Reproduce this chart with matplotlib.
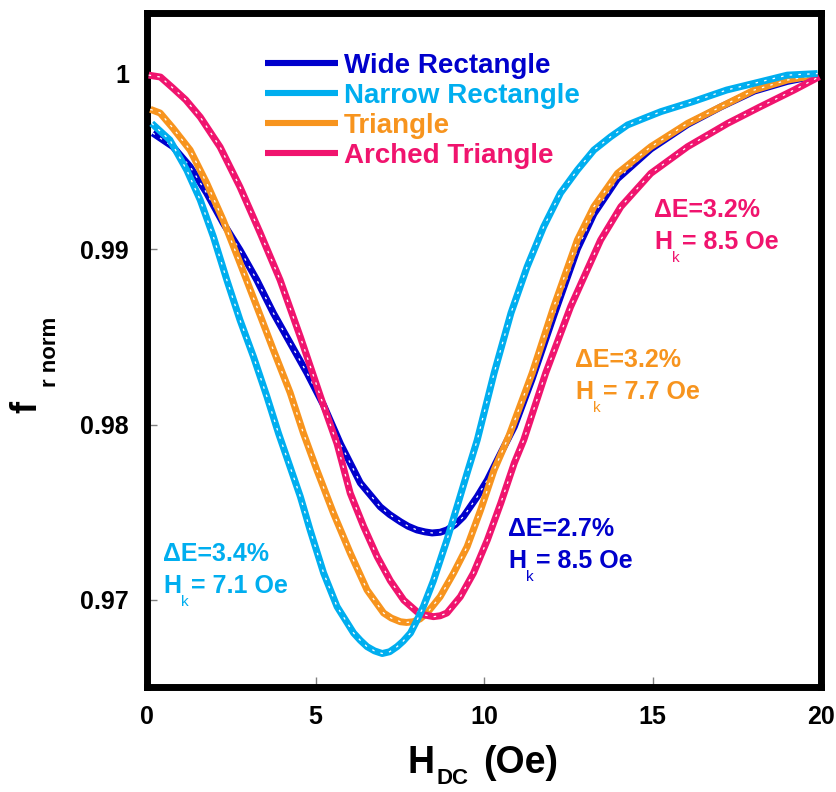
import matplotlib
matplotlib.use("Agg")
import matplotlib.pyplot as plt
from matplotlib.lines import Line2D

# ---------------- data ----------------
series_names = ["Wide Rectangle", "Narrow Rectangle", "Triangle", "Arched Triangle"]
series_colors = ["#0000CC", "#00AEEF", "#F7941E", "#F0146E"]

wide_x = [0.17, 0.77, 1.28, 1.77, 2.26, 2.76, 3.26, 3.75, 4.25, 4.75, 5.24, 5.74, 6.33, 6.92,
          7.2, 7.52, 7.75, 8.01, 8.25, 8.46, 8.7, 8.9, 9.15, 9.39, 9.8, 10.1, 10.5, 10.9,
          11.43, 12.07, 12.77, 13.26, 13.96, 14.95, 16.04, 17.03, 18.02, 19.0, 19.9]
wide_y = [0.99661, 0.99583, 0.99469, 0.99319, 0.99148, 0.98994, 0.98823, 0.98635, 0.98464,
          0.98293, 0.98110, 0.97890, 0.97667, 0.97531, 0.97487, 0.97446, 0.97420, 0.97399,
          0.97388, 0.97382, 0.97386, 0.97399, 0.97430, 0.97475, 0.97589, 0.97684, 0.97838,
          0.97988, 0.98260, 0.98620, 0.99000, 0.99200, 0.99400, 0.99570, 0.99710, 0.99810,
          0.99900, 0.99955, 0.99990]

narrow_x = [0.14, 0.68, 1.18, 1.58, 1.97, 2.37, 2.76, 3.16, 3.56, 3.9, 4.55, 4.84, 5.24, 5.64,
            6.13, 6.33, 6.53, 6.75, 6.98, 7.2, 7.42, 7.6, 7.82, 8.0, 8.2, 8.5, 8.9, 9.2, 9.5,
            9.8, 10.3, 10.8, 11.28, 11.77, 12.27, 12.77, 13.26, 13.76, 14.26, 14.75, 15.25,
            16.2, 17.2, 18.2, 19.0, 19.9]
narrow_y = [0.99716, 0.99621, 0.99450, 0.99279, 0.99070, 0.98823, 0.98595, 0.98386, 0.98158,
            0.97951, 0.97589, 0.97399, 0.97154, 0.96962, 0.96812, 0.96770, 0.96734, 0.96710,
            0.96695, 0.96705, 0.96734, 0.96765, 0.96812, 0.96880, 0.96962, 0.97110, 0.97342,
            0.97532, 0.97724, 0.97912, 0.98293, 0.98635, 0.98899, 0.99127, 0.99319, 0.99450,
            0.99564, 0.99640, 0.99707, 0.99745, 0.99783, 0.99840, 0.99906, 0.99953, 0.99991,
            1.00000]

tri_x = [0.1, 0.39, 0.77, 1.28, 1.77, 2.26, 2.76, 3.26, 3.75, 4.25, 4.64, 5.04, 5.53, 6.03,
         6.53, 7.02, 7.25, 7.52, 7.7, 7.9, 8.1, 8.31, 8.7, 9.1, 9.5, 9.9, 10.3, 10.75, 11.43,
         12.07, 12.77, 13.26, 13.96, 14.95, 16.04, 17.03, 18.02, 19.0, 19.9]
tri_y = [0.99796, 0.99775, 0.99689, 0.99564, 0.99376, 0.99165, 0.98920, 0.98671, 0.98425,
         0.98180, 0.97951, 0.97741, 0.97496, 0.97268, 0.97057, 0.96926, 0.96897, 0.96876,
         0.96872, 0.96876, 0.96892, 0.96926, 0.97019, 0.97154, 0.97304, 0.97513, 0.97741,
         0.97940, 0.98293, 0.98671, 0.99051, 0.99241, 0.99431, 0.99583, 0.99716, 0.99811,
         0.99906, 0.99963, 0.99991]

arch_x = [0.05, 0.4, 0.77, 1.15, 1.58, 2.17, 2.76, 3.36, 3.95, 4.55, 5.2, 5.64, 6.03, 6.43,
          6.83, 7.22, 7.62, 8.01, 8.25, 8.5, 8.7, 8.9, 9.3, 9.69, 10.1, 10.5, 10.9, 11.18,
          11.83, 12.57, 13.46, 14.06, 14.95, 16.04, 17.23, 18.2, 19.2, 19.95]
arch_y = [0.99991, 0.99980, 0.99917, 0.99850, 0.99752, 0.99581, 0.99353, 0.99091, 0.98823,
          0.98499, 0.98130, 0.97890, 0.97609, 0.97418, 0.97247, 0.97110, 0.96999, 0.96933,
          0.96914, 0.96905, 0.96910, 0.96926, 0.97019, 0.97154, 0.97342, 0.97553, 0.97781,
          0.97912, 0.98293, 0.98671, 0.99051, 0.99241, 0.99431, 0.99583, 0.99716, 0.99811,
          0.99906, 0.99982]

x_ticks = [0, 5, 10, 15, 20]
x_tick_labels = ["0", "5", "10", "15", "20"]
y_ticks = [0.97, 0.98, 0.99, 1.0]
y_tick_labels = ["0.97", "0.98", "0.99", "1"]

annot_de = ["\u0394E=2.7%", "\u0394E=3.4%", "\u0394E=3.2%", "\u0394E=3.2%"]
annot_hk = ["= 8.5 Oe", "= 7.1 Oe", "= 7.7 Oe", "= 8.5 Oe"]

# ---------------- figure ----------------
FONT = ["Liberation Sans", "DejaVu Sans"]
plt.rcParams["font.family"] = FONT
W, H = 836, 792
fig = plt.figure(figsize=(W / 100, H / 100), dpi=100)


def fx(px):
    return px / W


def fy(py):
    return 1 - py / H


ax_left, ax_right, ax_top, ax_bot = 147, 821, 13, 686.5
ax = fig.add_axes([fx(ax_left), fy(ax_bot), (ax_right - ax_left) / W, (ax_bot - ax_top) / H])
ax.set_xlim(0, 20)
ax.set_ylim(0.96507, 1.00345)

data = [(wide_x, wide_y), (narrow_x, narrow_y), (tri_x, tri_y), (arch_x, arch_y)]
zorders = [2, 5, 3, 4]
for (xs, ys), c, z in zip(data, series_colors, zorders):
    ax.plot(xs, ys, color=c, lw=5, solid_capstyle="butt", solid_joinstyle="round", zorder=z)
    ax.plot(xs, ys, color="white", lw=0.9, dashes=(2.0, 5), zorder=z + 0.1)

for s in ax.spines.values():
    s.set_linewidth(5)
    s.set_color("black")
ax.set_xticks(x_ticks)
ax.set_xticklabels(x_tick_labels)
ax.set_yticks(y_ticks)
ax.set_yticklabels(y_tick_labels)
ax.tick_params(direction="in", length=7.5, width=1, color="#808080",
               labelsize=18, pad=13, top=False, right=False)
for lab in ax.get_xticklabels() + ax.get_yticklabels():
    lab.set_fontweight("bold")

# ---------------- legend (manual) ----------------
leg_rows = [62.7, 92.7, 123.3, 153.3]
for name, c, py in zip(series_names, series_colors, leg_rows):
    fig.add_artist(Line2D([fx(265), fx(338)], [fy(py), fy(py)], color=c, lw=4.4,
                          solid_capstyle="butt", transform=fig.transFigure))
    fig.text(fx(344), fy(py + 10), name, color=c, fontsize=20, fontweight="bold",
             ha="left", va="baseline")

renderer = fig.canvas.get_renderer()


def rich(x_px, base_py, parts):
    x = x_px
    for s, size, weight, dy, color in parts:
        t = fig.text(fx(x), fy(base_py + dy), s, fontsize=size, fontweight=weight,
                     color=color, ha="left", va="baseline")
        bb = t.get_window_extent(renderer)
        x += bb.width
    return x


# annotations: (x_px, baseline of line 1)
annot_pos = [(508, 536), (163, 561), (575, 367), (654, 217)]
for (px, py), de, hk, c in zip(annot_pos, annot_de, annot_hk, series_colors):
    fig.text(fx(px), fy(py), de, color=c, fontsize=18, fontweight="bold",
             ha="left", va="baseline")
    xe = rich(px, py + 32, [("H", 18, "bold", 0, c), ("k", 11, "normal", 13, c)])
    fig.text(fx(xe + 2), fy(py + 32), hk, color=c, fontsize=18, fontweight="bold",
             ha="left", va="baseline")

# x label  H_DC (Oe)
xe = rich(407, 773, [("H", 27, "bold", 0, "black")])
xe = rich(xe + 3, 773, [("DC", 16, "bold", 11, "black")])
fig.text(fx(xe + 14), fy(773), "(Oe)", color="black", fontsize=27, fontweight="bold",
         ha="left", va="baseline")

# y label  f_r norm (rotated)
fig.text(fx(27), fy(407), "f", rotation=90, fontsize=26, fontweight="bold",
         ha="center", va="center")
fig.text(fx(51), fy(352), "r norm", rotation=90, fontsize=16, fontweight="bold",
         ha="center", va="center")

fig.savefig("out.png", dpi=100)
